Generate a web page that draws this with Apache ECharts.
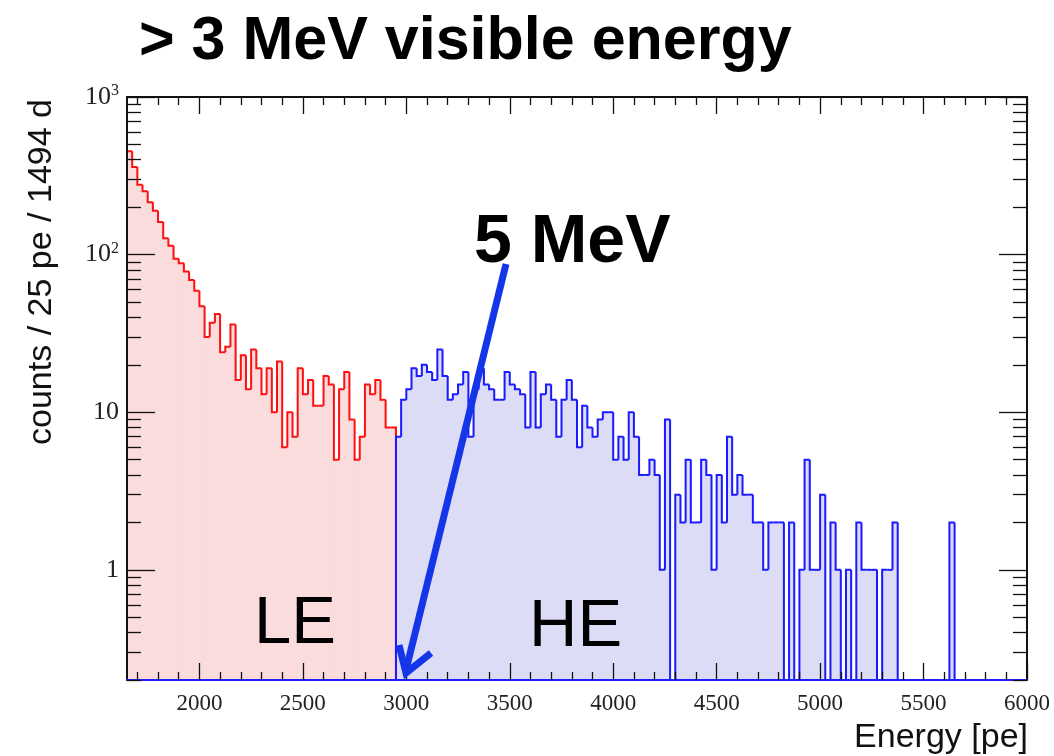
<!DOCTYPE html>
<html><head><meta charset="utf-8">
<script src="https://cdn.jsdelivr.net/npm/echarts@6/dist/echarts.min.js"></script>
<style>html,body{margin:0;padding:0;background:#fff}#c{width:1054px;height:756px}</style>
</head><body><div id="c"></div>
<script>
// ---- data ----
const binStart = 1650;   // pe
const binWidth = 25;     // pe
// LE region: 1650 .. 2950 pe (52 bins)
const leCounts = [453,359,277,252,215,190,161,127,114,94,88,78,69,59,47,30,37,42,24,26,
  36,16,23,14,25,19,13,19,10,21,6,10,7,19,13,16,11,11,17,15,5,14,18,9,5,7,15,13,16,12,8,8];
// HE region: 2950 .. 6000 pe (122 bins)
const heCounts = [7,12,14,19,17,20,18,16,25,17,
  12,13,15,18,7,14,19,15,14,12,
  12,18,15,14,13,8,18,8,13,15,
  12,7,12,16,12,6,11,8,7,9,
  10,10,5,7,5,10,7,4,4,5,
  4,1,9,0,3,2,5,2,2,5,
  4,1,4,2,7,3,4,3,3,2,
  2,1,2,2,2,0,2,0,1,5,
  1,1,3,0,2,1,0,1,0,2,
  1,1,1,0,1,1,2,0,0,0,
  0,0,0,0,0,0,0,2,0,0,
  0,0,0,0,0,0,0,0,0,0,
  0,0];
const xMin = 1650, xMax = 6000;
const yMin = 0.2, yMax = 1000;
const xMajorTicks = [2000,2500,3000,3500,4000,4500,5000,5500,6000];
const xMinorTicks = [];
for (let v = 1700; v < 6000; v += 100) if (v % 500 !== 0) xMinorTicks.push(v);
const yMajorTicks = [1,10,100,1000];
const yMinorTicks = [0.2,0.3,0.4,0.5,0.6,0.7,0.8,0.9,2,3,4,5,6,7,8,9,20,30,40,50,60,70,80,90,200,300,400,500,600,700,800,900];
const yLabelText = {1:'1', 10:'10', 100:'10{s|2}', 1000:'10{s|3}'};

// ---- build series data ----
function bins(counts, firstIndex) {
  return counts.map((c, i) => {
    const x0 = binStart + (firstIndex + i) * binWidth;
    return [x0, x0 + binWidth, c, i > 0 ? counts[i - 1] : 0];
  });
}
const leData = bins(leCounts, 0);
const heData = bins(heCounts, leCounts.length);

function fillRender(color) {
  return function (params, api) {
    const x0 = api.value(0), x1 = api.value(1), v = api.value(2);
    if (!(v > 0)) return {type: 'group', children: []};
    const tl = api.coord([x0, Math.max(v, yMin)]);
    const br = api.coord([x1, yMin]);
    return {type: 'rect', silent: true,
      shape: {x: tl[0], y: tl[1], width: br[0] - tl[0] + 0.7, height: br[1] - tl[1]},
      style: {fill: color}};
  };
}
function lineRender(color, lastIdx) {
  return function (params, api) {
    const x0 = api.value(0), x1 = api.value(1);
    const v = Math.max(api.value(2), yMin), pv = Math.max(api.value(3), yMin);
    const pts = [api.coord([x0, pv]), api.coord([x0, v]), api.coord([x1, v])];
    if (params.dataIndex === lastIdx) pts.push(api.coord([x1, yMin]));
    return {type: 'polyline', silent: true, shape: {points: pts},
      style: {stroke: color, lineWidth: 2, fill: null, lineJoin: 'miter'}};
  };
}

const black = '#111';
function xAx(pos, ticks, len, labels, lineColor) {
  return {type: 'value', min: xMin, max: xMax, position: pos, gridIndex: 0, z: 20,
    axisLine: {show: !!lineColor, lineStyle: {color: lineColor || black, width: 2}},
    axisTick: {show: true, inside: true, length: len, customValues: ticks, lineStyle: {color: black, width: 1.3}},
    axisLabel: labels ? {show: true, customValues: ticks, margin: 12,
      formatter: v => String(v),
      fontFamily: 'Liberation Serif', fontSize: 23, color: '#222'} : {show: false},
    splitLine: {show: false}, minorTick: {show: false}};
}
function yAx(pos, ticks, len, labels, line) {
  return {type: 'log', logBase: 10, min: yMin, max: yMax, position: pos, gridIndex: 0, z: 20,
    axisLine: {show: line, lineStyle: {color: black, width: 2}},
    axisTick: {show: true, inside: true, length: len, customValues: ticks, lineStyle: {color: black, width: 1.3}},
    axisLabel: labels ? {show: true, customValues: ticks, margin: 8,
      fontFamily: 'Liberation Serif', fontSize: 26, color: '#222',
      formatter: v => yLabelText[Math.round(v)] || '',
      rich: {s: {fontFamily: 'Liberation Serif', fontSize: 16, verticalAlign: 'top', padding: [0,0,12,0], color: '#222'}}} : {show: false},
    splitLine: {show: false}, minorTick: {show: false}};
}

const chart = echarts.init(document.getElementById('c'), null, {renderer: 'canvas'});
chart.setOption({
  animation: false,
  backgroundColor: '#fff',
  grid: {left: 127, right: 27, top: 97, bottom: 76, containLabel: false},
  xAxis: [
    xAx('bottom', xMajorTicks, 17, true, '#2020ff'),
    xAx('bottom', xMinorTicks, 8, false, null),
    xAx('top', xMajorTicks, 17, false, black),
    xAx('top', xMinorTicks, 8, false, null)
  ],
  yAxis: [
    yAx('left', yMajorTicks, 28, true, true),
    yAx('left', yMinorTicks, 14, false, false),
    yAx('right', yMajorTicks, 28, false, true),
    yAx('right', yMinorTicks, 14, false, false)
  ],
  series: [
    {type: 'custom', name: 'LE fill', xAxisIndex: 0, yAxisIndex: 0, data: leData,
      encode: {x: [0, 1], y: 2}, renderItem: fillRender('#fadcdc'), z: 1},
    {type: 'custom', name: 'HE fill', xAxisIndex: 0, yAxisIndex: 0, data: heData,
      encode: {x: [0, 1], y: 2}, renderItem: fillRender('#dddcf6'), z: 1},
    {type: 'custom', name: 'LE', xAxisIndex: 0, yAxisIndex: 0, data: leData,
      encode: {x: [0, 1], y: 2}, renderItem: lineRender('#ff1010', leData.length - 1), z: 3},
    {type: 'custom', name: 'HE', xAxisIndex: 0, yAxisIndex: 0, data: heData,
      encode: {x: [0, 1], y: 2}, renderItem: lineRender('#1a1aff', heData.length - 1), z: 4}
  ],
  graphic: [
    {type: 'text', left: 139, top: 12, z: 30,
      style: {text: '> 3 MeV visible energy', font: 'bold 61px "Liberation Sans", Arial, sans-serif', fill: '#000'}},
    {type: 'text', x: 42, y: 272, rotation: Math.PI / 2, z: 30,
      style: {text: 'counts / 25 pe / 1494 d', font: '34px "Liberation Sans", Arial, sans-serif', fill: '#111',
        textAlign: 'center', textVerticalAlign: 'middle'}},
    {type: 'text', x: 1028, y: 738, z: 30,
      style: {text: 'Energy [pe]', font: '34px "Liberation Sans", Arial, sans-serif', fill: '#111',
        textAlign: 'right', textVerticalAlign: 'middle'}},
    {type: 'text', left: 474, top: 209, z: 30,
      style: {text: '5 MeV', font: 'bold 68px "Liberation Sans", Arial, sans-serif', fill: '#000'}},
    {type: 'text', left: 254, top: 591, z: 30,
      style: {text: 'LE', font: '67px "Liberation Sans", Arial, sans-serif', fill: '#000'}},
    {type: 'text', left: 529, top: 594, z: 30,
      style: {text: 'HE', font: '67px "Liberation Sans", Arial, sans-serif', fill: '#000'}},
    {type: 'polyline', z: 30, shape: {points: [[506, 264], [406, 670]]},
      style: {stroke: '#1536e8', lineWidth: 7, fill: null}},
    {type: 'polyline', z: 30, shape: {points: [[399, 645], [406, 673], [431, 653]]},
      style: {stroke: '#1536e8', lineWidth: 7, fill: null, lineJoin: 'miter'}}
  ]
});
</script>
</body></html>
